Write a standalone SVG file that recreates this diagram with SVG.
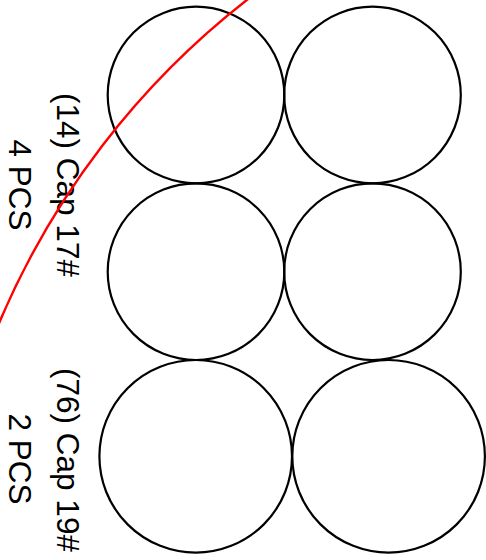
<svg xmlns="http://www.w3.org/2000/svg" width="486" height="560" viewBox="0 0 486 560">
<style>
.cap{fill:none;stroke:#000;stroke-width:2.2}
.lbl{font-family:"Liberation Sans",Arial,sans-serif;font-size:31.5px;fill:#000;text-anchor:middle}
.cut{fill:none;stroke:#ff0000;stroke-width:2.4}
</style>
<rect width="486" height="560" fill="#fff"/>
<g id="cap17-1"><circle class="cap" cx="196" cy="95" r="88.3"/></g>
<g id="cap17-2"><circle class="cap" cx="372.5" cy="95" r="88.3"/></g>
<g id="cap17-3"><circle class="cap" cx="196" cy="271.7" r="88.3"/></g>
<g id="cap17-4"><circle class="cap" cx="372.5" cy="271.7" r="88.3"/></g>
<g id="cap19-1"><circle class="cap" cx="195.7" cy="456.3" r="96.3"/></g>
<g id="cap19-2"><circle class="cap" cx="388.6" cy="456.3" r="96.3"/></g>
<g id="labels">
<text class="lbl" transform="translate(57,185) rotate(90)">(14) Cap 17#</text>
<text class="lbl" transform="translate(9,185) rotate(90)">4 PCS</text>
<text class="lbl" transform="translate(57,460) rotate(90)">(76) Cap 19#</text>
<text class="lbl" transform="translate(9,459) rotate(90)">2 PCS</text>
</g>
<g id="connectors">
<path class="cut" d="M -3 328 A 809 809 0 0 1 252 -4"/>
</g>
</svg>
